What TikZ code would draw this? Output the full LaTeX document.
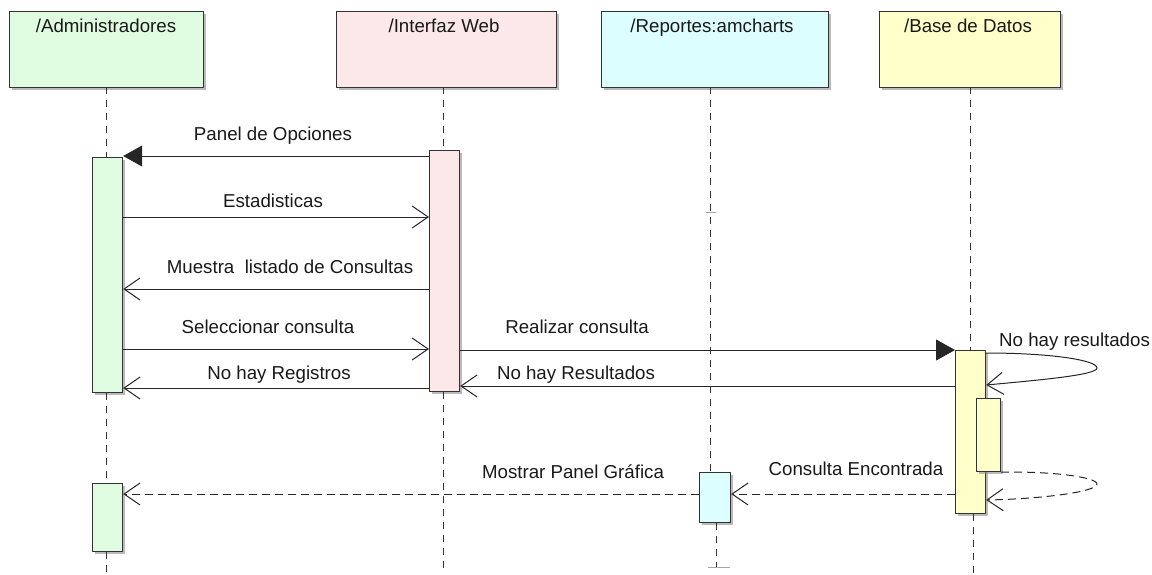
\documentclass[tikz,border=0pt]{standalone}
\usepackage{fontspec}
\setmainfont{Liberation Sans}
\usetikzlibrary{arrows.meta,shadows}
\definecolor{cgreen}{HTML}{E0FCE0}
\definecolor{cpink}{HTML}{FCE8E8}
\definecolor{ccyan}{HTML}{DCFEFF}
\definecolor{cyellow}{HTML}{FFFFCA}
\definecolor{cborder}{HTML}{333333}
\begin{document}
\begin{tikzpicture}[x=1pt,y=-1pt,
  box/.style={draw=cborder, line width=1.2pt, anchor=north west, inner sep=0pt,
    drop shadow={shadow xshift=2pt, shadow yshift=-2pt, fill=black!45, opacity=0.6}},
  life/.style={line width=1pt, dash pattern=on 7pt off 6pt, draw=black!80},
  msg/.style={line width=1pt, draw=black!85},
  ret/.style={msg, dash pattern=on 8pt off 5pt},
  open/.style={-{Straight Barb[length=16pt,width=22pt]}},
  filled/.style={-{Triangle[length=19pt,width=21pt]}},
  lbl/.style={font=\fontsize{18.7}{22}\selectfont, anchor=base, text=black!90, inner sep=0pt},
  tick/.style={draw=black!35, line width=0.8pt}
]
\useasboundingbox (0,0) rectangle (1152,574);

% headers
\node[box, fill=cgreen,  minimum width=194, minimum height=76] (h1) at (9,11) {};
\node[box, fill=cpink,   minimum width=220, minimum height=76] (h2) at (336,11) {};
\node[box, fill=ccyan,   minimum width=227, minimum height=76] (h3) at (601,11) {};
\node[box, fill=cyellow, minimum width=181, minimum height=76] (h4) at (879,11) {};
\node[lbl] (t1) at (106,32) {/Administradores};
\node[lbl] (t2) at (444,32) {/Interfaz Web};
\node[lbl] (t3) at (712,32) {/Reportes:amcharts};
\node[lbl] (t4) at (968,32) {/Base de Datos};

% activations
\node[box, fill=cgreen,  minimum width=30, minimum height=235] (a1) at (92,157) {};
\node[box, fill=cgreen,  minimum width=30, minimum height=68]  (a2) at (92,483) {};
\node[box, fill=cpink,   minimum width=30, minimum height=241] (iw) at (429,150) {};
\node[box, fill=ccyan,   minimum width=31, minimum height=50]  (rp) at (699,472) {};
\node[box, fill=cyellow, minimum width=30, minimum height=163] (bd) at (955,350) {};
\node[box, fill=cyellow, minimum width=24, minimum height=73]  (bdn) at (976,398) {};

% lifelines
\coordinate (l1) at (106,87);
\coordinate (l2) at (443,87);
\coordinate (l3) at (710,87);
\coordinate (l3b) at (716,567);
\coordinate (l4) at (970,87);
\coordinate (l4b) at (973,574);
\draw[life] (l1) -- (l1 |- a1.north);
\draw[life] (l1 |- a1.south) -- (l1 |- a2.north);
\draw[life] (l1 |- a2.south) -- (l1 |- 0,574);
\draw[life] (l2) -- (l2 |- iw.north);
\draw[life] (l2 |- iw.south) -- (l2 |- 0,574);
\draw[life] (l3) -- (l3 |- rp.north);
\draw[life] (l3b |- rp.south) -- (l3b);
\draw[life] (l4) -- (l4 |- bd.north);
\draw[life] (l4b |- bd.south) -- (l4b);
\draw[tick] (706,212) -- (716,212);
\draw[tick] (708,567) -- (730,567);

% messages
\draw[msg,filled] (iw.west |- 0,156) -- (a1.east |- 0,156);
\draw[msg,open] (a1.east |- 0,217) -- (iw.west |- 0,217);
\draw[msg,open] (iw.west |- 0,289) -- (a1.east |- 0,289);
\draw[msg,open] (a1.east |- 0,349) -- (iw.west |- 0,349);
\draw[msg,filled] (iw.east |- 0,350) -- (bd.west |- 0,350);
\draw[msg,open] (bd.west |- 0,386) -- (iw.east |- 0,386);
\draw[msg,open] (iw.west |- 0,388) -- (a1.east |- 0,388);
\draw[msg,open] (bd.east |- 0,353) .. controls (1050,353) and (1097,360) .. (1097,368)
  .. controls (1097,375) and (1040,380) .. (bd.east |- 0,385);
\draw[ret,open] (bdn.south east) .. controls (1050,471) and (1097,477) .. (1097,484)
  .. controls (1097,492) and (1040,499) .. (bd.east |- 0,500);
\draw[ret,open] (bd.west |- 0,494) -- (rp.east |- 0,494);
\draw[ret,open] (rp.west |- 0,494) -- (a2.east |- 0,494);

% labels
\node[lbl] (m1) at (273,140) {Panel de Opciones};
\node[lbl] (m2) at (273,207) {Estadisticas};
\node[lbl] (m3) at (290,273) {Muestra\ \ listado de Consultas};
\node[lbl] (m4) at (268,333) {Seleccionar consulta};
\node[lbl] (m5) at (577,333) {Realizar consulta};
\node[lbl] (m6) at (279,379) {No hay Registros};
\node[lbl] (m7) at (576,379) {No hay Resultados};
\node[lbl, anchor=base west] (m8) at (999,346) {No hay resultados};
\node[lbl] (m9) at (856,475) {Consulta Encontrada};
\node[lbl] (m10) at (573,478) {Mostrar Panel Gráfica};
\end{tikzpicture}
\end{document}
